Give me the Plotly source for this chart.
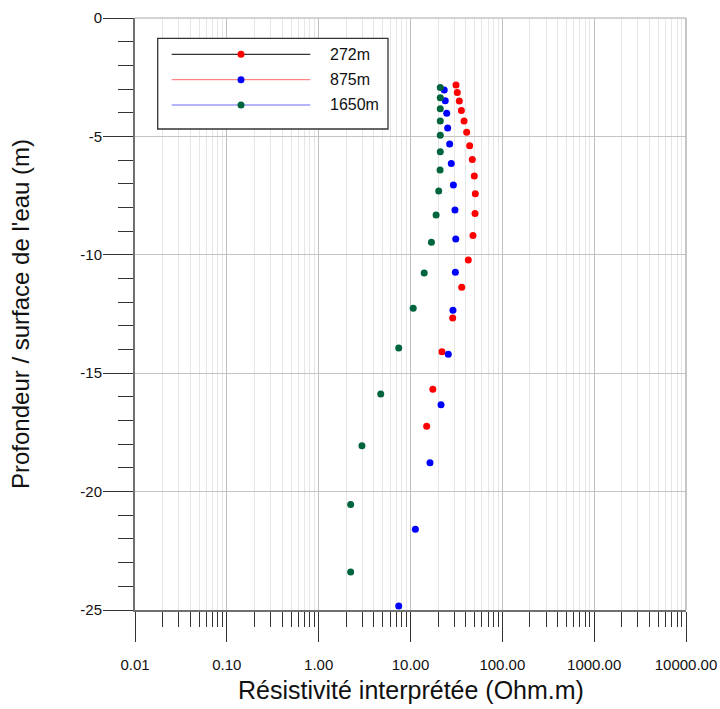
import plotly.graph_objects as go

# ---------------- data ----------------
series_names = ["272m", "875m", "1650m"]
marker_colors = ["#ff0000", "#0000ff", "#00643c"]
legend_line_colors = ["#000000", "#ff6a6a", "#6a6aff"]

res_272 = [31.3, 32.3, 34.0, 35.8, 38.3, 40.9, 44.1, 47.1, 49.5, 50.8, 50.4, 47.9,
           42.6, 36.1, 28.8, 22.0, 17.5, 15.0]
depth_272 = [-2.83, -3.15, -3.50, -3.91, -4.35, -4.83, -5.39, -5.98, -6.67, -7.42, -8.26,
             -9.19, -10.22, -11.37, -12.67, -14.09, -15.68, -17.24]

res_875 = [23.3, 23.9, 24.8, 25.4, 26.7, 27.8, 29.3, 30.5, 31.1, 30.8, 29.0, 25.8,
           21.5, 16.3, 11.3, 7.44]
depth_875 = [-3.04, -3.49, -4.02, -4.65, -5.32, -6.14, -7.05, -8.11, -9.33, -10.74,
             -12.34, -14.20, -16.33, -18.78, -21.59, -24.83]

res_1650 = [21.1, 21.1, 21.1, 21.1, 21.1, 21.1, 21.0, 20.3, 19.0, 16.9, 14.1, 10.7,
            7.44, 4.74, 2.96, 2.23, 2.23]
depth_1650 = [-2.94, -3.37, -3.83, -4.35, -4.95, -5.65, -6.42, -7.31, -8.32, -9.47,
              -10.77, -12.26, -13.94, -15.88, -18.06, -20.55, -23.40]

x_tick_vals = [0.01, 0.1, 1, 10, 100, 1000, 10000]
x_tick_text = ["0.01", "0.10", "1.00", "10.00", "100.00", "1000.00", "10000.00"]
x_minor_vals = [m * d for d in [0.01, 0.1, 1, 10, 100, 1000] for m in range(2, 10)]
y_tick_vals = [0, -5, -10, -15, -20, -25]
y_tick_text = ["0", "-5", "-10", "-15", "-20", "-25"]

x_title = "Résistivité interprétée (Ohm.m)"
y_title = "Profondeur / surface de l'eau (m)"

# ---------------- layout geometry ----------------
W, H = 720, 709
L, R, T, B = 135, 686, 18, 610
PW, PH = R - L, B - T


def px(xp):
    return (xp - L) / PW


def py(yp):
    return (B - yp) / PH


FONT = "Liberation Sans, Arial, sans-serif"

fig = go.Figure()
for name, xs, ys, col in zip(series_names, [res_272, res_875, res_1650],
                             [depth_272, depth_875, depth_1650], marker_colors):
    fig.add_trace(go.Scatter(x=xs, y=ys, mode="markers", name=name, showlegend=False,
                             marker=dict(color=col, size=7, line=dict(width=0))))

shapes = []
annotations = []

# top and right frame
shapes.append(dict(type="line", xref="paper", yref="paper", x0=0, x1=1, y0=1, y1=1,
                   line=dict(color="#c4c4c4", width=1.5)))
shapes.append(dict(type="line", xref="paper", yref="paper", x0=1, x1=1, y0=0, y1=1,
                   line=dict(color="#b4b4b4", width=1.5)))

# legend box
shapes.append(dict(type="rect", xref="paper", yref="paper",
                   x0=px(157.7), x1=px(388), y0=py(129), y1=py(38.3),
                   line=dict(color="#333333", width=1.3), fillcolor="white", layer="above"))
rows = [54.3, 79.7, 105]
for name, lc, mc, ry in zip(series_names, legend_line_colors, marker_colors, rows):
    shapes.append(dict(type="line", xref="paper", yref="paper", x0=px(171.7), x1=px(310.3),
                       y0=py(ry), y1=py(ry), line=dict(color=lc, width=1), layer="above"))
    shapes.append(dict(type="circle", xref="paper", yref="paper",
                       xsizemode="pixel", ysizemode="pixel",
                       xanchor=px(241), yanchor=py(ry), x0=-3.5, x1=3.5, y0=-3.5, y1=3.5,
                       fillcolor=mc, line=dict(width=0), layer="above"))
    annotations.append(dict(xref="paper", yref="paper", x=px(327.7), y=py(ry),
                            xanchor="left", yanchor="middle", text=name, showarrow=False,
                            font=dict(family=FONT, size=16, color="#111111")))

# axis titles
annotations.append(dict(xref="paper", yref="paper", x=0.5, y=py(690), text=x_title,
                        showarrow=False, xanchor="center", yanchor="middle",
                        font=dict(family=FONT, size=25, color="#111111")))
annotations.append(dict(xref="paper", yref="paper", x=px(20), y=0.5, text=y_title,
                        showarrow=False, xanchor="center", yanchor="middle", textangle=-90,
                        font=dict(family=FONT, size=24, color="#111111")))

fig.update_layout(
    width=W, height=H,
    margin=dict(l=L, r=W - R, t=T, b=H - B, pad=0, autoexpand=False),
    paper_bgcolor="white", plot_bgcolor="white",
    showlegend=False,
    shapes=shapes, annotations=annotations,
    font=dict(family=FONT, size=15, color="#111111"),
)

fig.update_xaxes(
    type="log", range=[-2, 4], automargin=False,
    tickmode="array", tickvals=x_tick_vals, ticktext=x_tick_text,
    ticks="outside", ticklen=30, tickwidth=1, tickcolor="#333333",
    ticklabelstandoff=10,
    showline=True, linecolor="#707070", linewidth=2,
    showgrid=True, gridcolor="#c0c0c0", gridwidth=1,
    zeroline=False,
    tickfont=dict(family=FONT, size=15, color="#111111"),
    minor=dict(tickmode="array", tickvals=x_minor_vals, ticks="outside", ticklen=15,
               tickwidth=1, tickcolor="#333333", showgrid=True, gridcolor="#e6e6e6",
               gridwidth=1),
)
fig.update_yaxes(
    range=[-25, 0], automargin=False,
    tickmode="array", tickvals=y_tick_vals, ticktext=y_tick_text,
    ticks="outside", ticklen=30, tickwidth=1, tickcolor="#333333",
    ticklabelstandoff=-2,
    showline=True, linecolor="#707070", linewidth=2,
    showgrid=True, gridcolor="#c4c4c4", gridwidth=1,
    zeroline=False,
    tickfont=dict(family=FONT, size=15, color="#111111"),
    minor=dict(dtick=1, tick0=0, ticks="outside", ticklen=15, tickwidth=1,
               tickcolor="#333333", showgrid=False),
)

fig.write_html("out.html",
               config={"displayModeBar": False},
               post_script="document.body.style.margin='0';document.body.style.padding='0';")
